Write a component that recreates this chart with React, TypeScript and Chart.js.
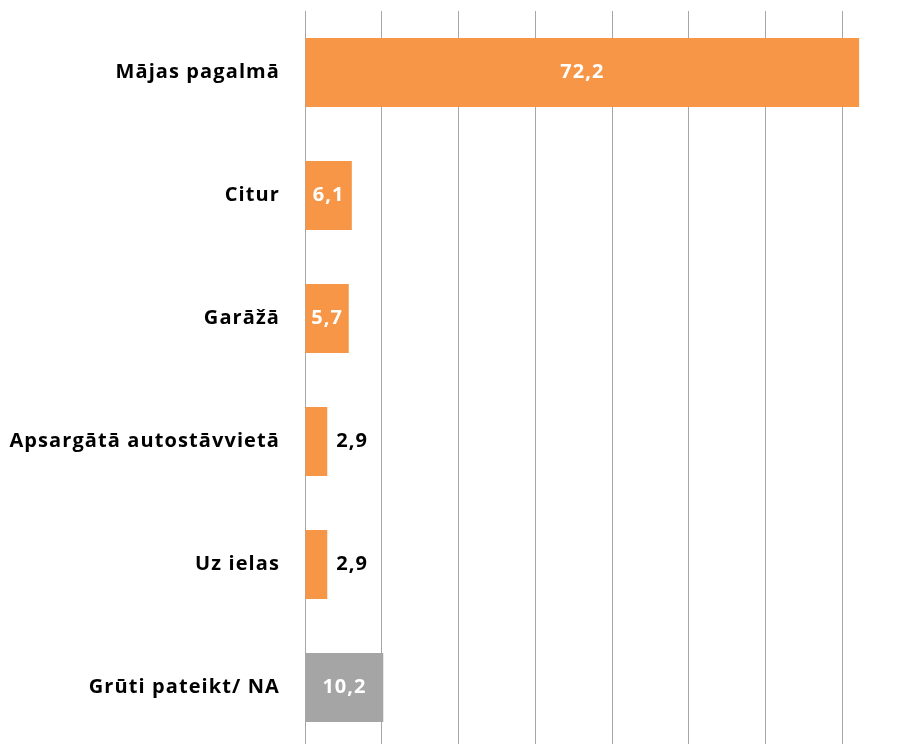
import React, { useEffect, useRef } from "react";
import { Chart, registerables } from "chart.js";

Chart.register(...registerables);

const categories = [
  "Mājas pagalmā",
  "Citur",
  "Garāžā",
  "Apsargātā autostāvvietā",
  "Uz ielas",
  "Grūti pateikt/ NA",
];
const values = [72.2, 6.1, 5.7, 2.9, 2.9, 10.2];
const barColors = ["#F79646", "#F79646", "#F79646", "#F79646", "#F79646", "#A5A5A5"];

const FONT = "'Open Sans', 'Noto Sans', sans-serif";

const spacing = {
  id: "spacing",
  beforeDraw(chart: any) {
    (chart.ctx as any).letterSpacing = "1.1px";
  },
};

const valueLabels = {
  id: "valueLabels",
  afterDatasetsDraw(chart: any) {
    const ctx = chart.ctx;
    const meta = chart.getDatasetMeta(0);
    ctx.save();
    (ctx as any).letterSpacing = "1px";
    ctx.font = `bold 20px ${FONT}`;
    ctx.textBaseline = "middle";
    meta.data.forEach((bar: any, i: number) => {
      const v = values[i];
      const txt = v.toFixed(1).replace(".", ",");
      if (v < 4) {
        ctx.fillStyle = "#000000";
        ctx.textAlign = "left";
        ctx.fillText(txt, bar.x + 9, bar.y);
      } else {
        ctx.fillStyle = "#FFFFFF";
        ctx.textAlign = "center";
        ctx.fillText(txt, (bar.x + bar.base) / 2, bar.y);
      }
    });
    ctx.restore();
  },
};

export default function App() {
  const ref = useRef<HTMLCanvasElement>(null);
  useEffect(() => {
    if (!ref.current) return;
    const chart = new Chart(ref.current, {
      type: "bar",
      data: {
        labels: categories,
        datasets: [
          {
            data: values,
            backgroundColor: barColors,
            borderWidth: 0,
            barPercentage: 0.56,
            categoryPercentage: 1,
          },
        ],
      },
      options: {
        indexAxis: "y",
        responsive: false,
        animation: false,
        devicePixelRatio: 1,
        layout: { padding: { top: 11, bottom: 11, right: 6, left: 0 } },
        plugins: { legend: { display: false }, tooltip: { enabled: false } },
        scales: {
          x: {
            min: 0,
            max: 80,
            ticks: { display: false, stepSize: 10 },
            grid: { color: "#A6A6A6", lineWidth: 1, drawTicks: false },
            border: { display: false },
          },
          y: {
            afterFit: (scale: any) => {
              scale.width = 305;
              scale.paddingTop = 0;
              scale.paddingBottom = 0;
            },
            ticks: {
              color: "#000000",
              padding: 25,
              font: { family: FONT, size: 20, weight: "bold" },
            },
            grid: { display: false, drawTicks: false },
            border: { display: false },
          },
        },
      },
      plugins: [spacing, valueLabels],
    });
    return () => chart.destroy();
  }, []);
  return (
    <div
      style={{
        position: "fixed",
        left: 0,
        top: 0,
        width: 907,
        height: 744,
        overflow: "hidden",
        background: "#fff",
      }}
    >
      <canvas ref={ref} width={925} height={760} style={{ display: "block" }} />
    </div>
  );
}
